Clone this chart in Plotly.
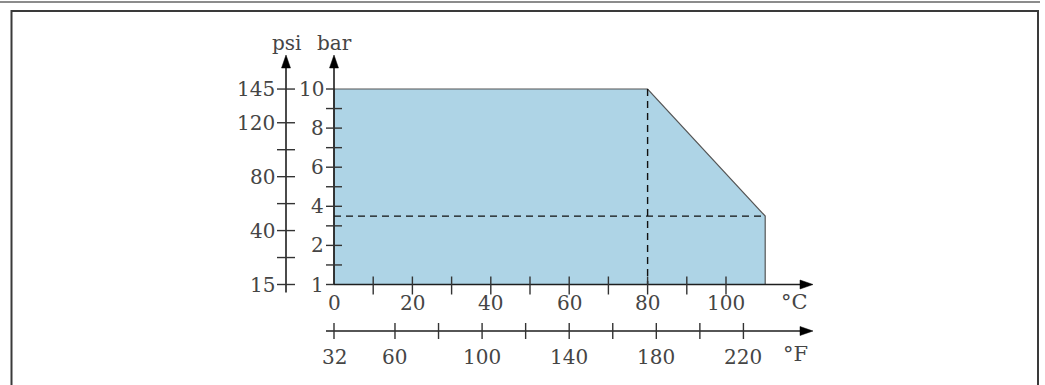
import plotly.graph_objects as go

# ---------------- data ----------------
# Pressure/temperature operating envelope (schematic: axis bottom = 1 bar / 15 psi)
env_temp_c = [0, 0, 80, 110, 110, 0]
env_pressure_bar = [0, 10, 10, 3.5, 0, 0]

# dashed guide lines
guide_v_temp_c = [80, 80]
guide_v_bar = [10, 0]
guide_h_temp_c = [0, 110]
guide_h_bar = [3.5, 3.5]

# axis ticks
bar_tick_pos = [0, 2, 4, 6, 8, 10]
bar_tick_text = ["1", "2", "4", "6", "8", "10"]
bar_minor_pos = [1, 3, 5, 7, 9]

psi_tick_text = ["15", "40", "80", "120", "145"]
psi_tick_values = [15, 40, 80, 120, 145]
psi_minor_values = [20, 60, 100]

c_tick_values = [0, 20, 40, 60, 80, 100]
c_minor_values = [10, 30, 50, 70, 90]

f_tick_values = [32, 60, 100, 140, 180, 220]
f_minor_values = [80, 120, 160, 200]

PSI_PER_BAR = 14.5038


def psi_to_pos(p):
    return 0 if p <= 15 else p / PSI_PER_BAR


def f_to_c(f):
    return (f - 32) / 1.8


# ---------------- layout geometry (pixels) ----------------
W, H = 1045, 385
X0PX, XS = 334.0, 3.92     # px of 0 degC, px per degC
Y0PX, YS = 284.5, 19.55    # px of axis bottom, px per bar


def dx(px):
    return px / XS


def dy(px):
    return px / YS


xr = [-X0PX / XS, (W - X0PX) / XS]
yr = [-(H - Y0PX) / YS, Y0PX / YS]

AX = "#1e1e1e"
TXT = "#454545"
FONT = "DejaVu Serif"
FS = 20

fig = go.Figure()

# envelope
fig.add_trace(go.Scatter(
    x=env_temp_c, y=env_pressure_bar, mode="lines", fill="toself",
    fillcolor="#aed4e6", line=dict(color="#555555", width=1.2),
    hoverinfo="skip", showlegend=False))

# dashed guides
for xs, ys in [(guide_v_temp_c, guide_v_bar), (guide_h_temp_c, guide_h_bar)]:
    fig.add_trace(go.Scatter(
        x=xs, y=ys, mode="lines",
        line=dict(color="#111111", width=1.4, dash="7px,5px"),
        hoverinfo="skip", showlegend=False))

shapes = []
annots = []


def line(x0, y0, x1, y1, w=1.6, c=AX):
    shapes.append(dict(type="line", xref="x", yref="y", x0=x0, y0=y0, x1=x1, y1=y1,
                       line=dict(color=c, width=w), layer="above"))


def arrow_up(x, ytip):
    hw, ln = dx(4.5), dy(13)
    shapes.append(dict(type="path", xref="x", yref="y",
                       path=f"M {x-hw},{ytip-ln} L {x},{ytip} L {x+hw},{ytip-ln} Z",
                       fillcolor="#000000", line=dict(color="#000000", width=0.5), layer="above"))


def arrow_right(xtip, y):
    hw, ln = dy(4.5), dx(13)
    shapes.append(dict(type="path", xref="x", yref="y",
                       path=f"M {xtip-ln},{y-hw} L {xtip},{y} L {xtip-ln},{y+hw} Z",
                       fillcolor="#000000", line=dict(color="#000000", width=0.5), layer="above"))


def text(x, y, s, xa="center", ya="middle", size=FS):
    annots.append(dict(x=x, y=y, xref="x", yref="y", text=s, showarrow=False,
                       xanchor=xa, yanchor=ya, font=dict(family=FONT, size=size, color=TXT)))


# ---- bar axis ----
bar_top = dy(Y0PX - 55)
line(0, 0, 0, bar_top - dy(8))
arrow_up(0, bar_top)
for p, t in zip(bar_tick_pos, bar_tick_text):
    right = 0 if p in (0, 10) else dx(8)
    line(-dx(8), p, right, p, w=1.4, c="#333333")
    text(-dx(8), p, t, xa="right")
for p in bar_minor_pos:
    line(-dx(8), p, dx(8), p, w=1.4, c="#333333")
text(0, dy(Y0PX - 43), "bar")

# ---- psi axis ----
psi_x = -dx(48)
line(psi_x, -dy(8), psi_x, bar_top - dy(8))
arrow_up(psi_x, bar_top)
for v, t in zip(psi_tick_values, psi_tick_text):
    p = psi_to_pos(v)
    line(psi_x - dx(9), p, psi_x + dx(9), p, w=1.4, c="#333333")
    text(psi_x - dx(9), p, t, xa="right")
for v in psi_minor_values:
    p = psi_to_pos(v)
    line(psi_x - dx(9), p, psi_x + dx(9), p, w=1.4, c="#333333")
text(psi_x, dy(Y0PX - 43), "psi")

# ---- degC axis ----
x_tip = dx(813 - X0PX)
line(0, 0, x_tip - dx(8), 0)
arrow_right(x_tip, 0)
for v in c_tick_values + c_minor_values:
    if v == 0:
        continue
    line(v, dy(8), v, -dy(10), w=1.4, c="#333333")
for v in c_tick_values:
    text(v, -dy(303 - Y0PX), str(v))
text(dx(794 - X0PX), -dy(302 - Y0PX), "°C", size=21)

# ---- degF axis ----
fy = -dy(331 - Y0PX)
line(-dx(8), fy, x_tip - dx(8), fy)
arrow_right(x_tip, fy)
for v in f_tick_values + f_minor_values:
    c = f_to_c(v)
    line(c, fy + dy(8), c, fy - dy(8), w=1.4, c="#333333")
for v in f_tick_values:
    text(f_to_c(v), -dy(357 - Y0PX), str(v))
text(dx(795 - X0PX), -dy(354 - Y0PX), "°F", size=21)

# ---- page frame ----
shapes.append(dict(type="line", xref="paper", yref="paper", x0=0, x1=1040 / W,
                   y0=1 - 2 / H, y1=1 - 2 / H, line=dict(color="#666666", width=1.5)))
shapes.append(dict(type="path", xref="paper", yref="paper",
                   path=f"M {11.5/W},{-0.05} L {11.5/W},{1-11/H} L {1038/W},{1-11/H} L {1038/W},{-0.05}",
                   line=dict(color="#3a3a3a", width=2)))

fig.update_layout(
    width=W, height=H, margin=dict(l=0, r=0, t=0, b=0),
    paper_bgcolor="white", plot_bgcolor="white",
    xaxis=dict(range=xr, visible=False, fixedrange=True),
    yaxis=dict(range=yr, visible=False, fixedrange=True),
    shapes=shapes, annotations=annots, showlegend=False,
)

fig.write_html("out.html", config={"displayModeBar": False},
               post_script="document.body.style.margin='0';document.body.style.overflow='hidden';")
